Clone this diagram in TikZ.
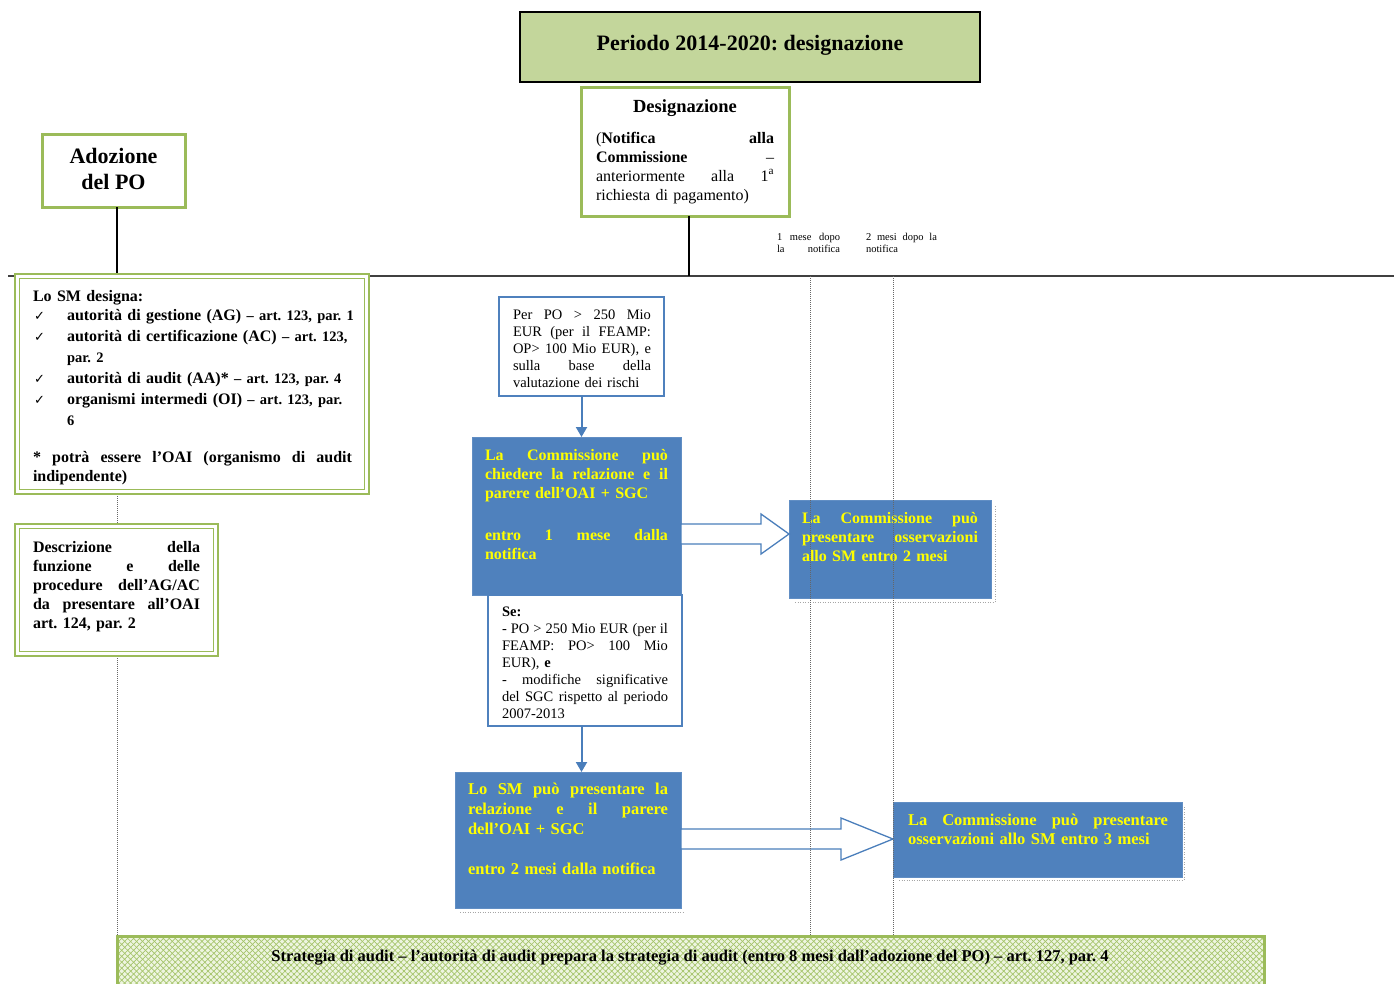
\documentclass[tikz,border=0pt]{standalone}
\usepackage{fontspec}
\setmainfont{Liberation Serif}
\newfontfamily\dejavu{DejaVu Sans}
\usetikzlibrary{arrows.meta,calc,fit,patterns.meta}
\definecolor{tgreen}{HTML}{C3D69B}
\definecolor{bgreen}{HTML}{9BBB59}
\definecolor{bblue}{HTML}{4F81BD}
\definecolor{lblue}{HTML}{4A7EBB}
\definecolor{byel}{HTML}{FFFF00}
\definecolor{stripbg}{HTML}{EEF5E0}
\definecolor{hatch}{HTML}{A5C46A}
\frenchspacing
\newcommand\fsz[2]{\fontsize{#1}{#2}\selectfont}
\newcommand\ckm{\makebox[34pt][l]{\hspace{1pt}{\dejavu\mdseries\fontsize{13}{13}\selectfont ✓}}}
\newcommand\subt[1]{{\fontsize{14.5}{21}\selectfont #1}}
\begin{document}
\begin{tikzpicture}[x=1pt,y=-1pt,
  frame/.style={inner sep=0pt, outer sep=0pt},
  titlebox/.style={frame, draw=black, line width=1.4pt, fill=tgreen},
  greenbox/.style={frame, draw=bgreen, line width=3pt, fill=white},
  dblouter/.style={frame, draw=bgreen, line width=2.6pt, fill=white},
  dblinner/.style={frame, draw=bgreen, line width=1.3pt},
  whitebox/.style={frame, draw=bblue, line width=1.4pt, fill=white},
  bluebox/.style={frame, draw=bblue!90!white, line width=1pt, fill=bblue},
  ghost/.style={draw=black!35, line width=0.6pt, dash pattern=on 1pt off 1.5pt},
  txt/.style={inner sep=0pt, outer sep=0pt, anchor=base west, align=left},
  ytxt/.style={txt, text=byel},
  timeline/.style={draw=black!75, line width=1.8pt},
  solidline/.style={draw=black, line width=1.2pt},
  dotline/.style={draw=black!60, line width=0.8pt, dash pattern=on 1pt off 1pt},
  bluearrow/.style={draw=lblue, line width=2pt, -{Triangle[width=11pt,length=10pt]}},
  blockarr/.style={draw=lblue, line width=1.3pt, fill=white, line join=miter},
]
\useasboundingbox (0,0) rectangle (1394,983);
\fill[white] (0,0) rectangle (1394,983);

% timeline
\coordinate (tlL) at (8,276);
\coordinate (tlR) at (1394,276);
\draw[timeline] (tlL) -- (tlR);

% dotted line under left boxes
\coordinate (v0t) at (117,494);
\coordinate (v0b) at (117,936);
\draw[dotline] (v0t) -- (v0b);

% title
\node[titlebox, fit={(520,12) (980,82)}] (title) {};
\node[font=\fsz{22}{26}\bfseries, inner sep=0pt] (titletxt) at (750,45) {Periodo 2014-2020: designazione};

% Adozione
\node[greenbox, fit={(42,134) (185,207)}] (adoz) {};
\node[font=\fsz{22}{26}\bfseries, align=center, inner sep=0pt] (adoztxt) at (113.5,169) {Adozione\\del PO};
\coordinate (adx) at (117,0);
\draw[solidline] (adoz.south -| adx) -- (tlL -| adx);

% Designazione
\node[greenbox, fit={(581,87) (789,216)}] (desig) {};
\node[txt, anchor=base, font=\fsz{18.5}{22}\bfseries] (desigh) at (685,112) {Designazione};
\node[txt, text width=178pt, font=\fsz{16}{19}] (desigtxt) at (596,143) {(\textbf{Notifica}\hfill\textbf{alla}\\
\textbf{Commissione}\hfill –\\
anteriormente\hfill alla\hfill 1\textsuperscript{a}\\
richiesta di pagamento)};
\coordinate (dsx) at (689,0);
\draw[solidline] (desig.south -| dsx) -- (tlL -| dsx);

% small labels
\node[txt, text width=63pt, font=\fsz{10.5}{12.5}] (lab1) at (777,240) {1\hfill mese\hfill dopo\\ la\hfill notifica};
\node[txt, text width=71pt, font=\fsz{10.5}{12.5}] (lab2) at (866,240) {2\hfill mesi\hfill dopo\hfill la\\ notifica};

% Lo SM designa
\node[dblouter, fit={(15,274) (369,494)}] (lsm) {};
\node[dblinner, fit={(19.5,278.5) (364.5,489.5)}] (lsmin) {};
\node[txt, text width=319pt, font=\fsz{16}{21}\bfseries] (lsmtxt) at (33,301) {Lo SM designa:\\[-2pt]
\mbox{\ckm autorità di gestione (AG) \subt{– art. 123, par. 1}}\\
\mbox{\ckm autorità di certificazione (AC) \subt{– art. 123,}}\\
\hspace*{34pt}\subt{par. 2}\\
\mbox{\ckm autorità di audit (AA)* \subt{– art. 123, par. 4}}\\
\mbox{\ckm organismi intermedi (OI) \subt{– art. 123, par.}}\\
\hspace*{34pt}\subt{6}\\[16pt]
*\hfill potrà\hfill essere\hfill l’OAI\hfill (organismo\hfill di\hfill audit\\[-2pt]
indipendente)};

% Descrizione
\node[dblouter, fit={(15,524) (218,656)}] (descr) {};
\node[dblinner, fit={(19.5,528.5) (213.5,651.5)}] (descrin) {};
\node[txt, text width=167pt, font=\fsz{16}{19}\bfseries] (descrtxt) at (33,552) {Descrizione\hfill della\\
funzione\hfill e\hfill delle\\
procedure\hfill dell’AG/AC\\
da\hfill presentare\hfill all’OAI\\
art. 124, par. 2};

% Per PO box
\node[whitebox, fit={(499,297) (664,396)}] (perpo) {};
\node[txt, text width=138pt, font=\fsz{14.5}{17}] (perpotxt) at (513,319) {Per\hfill PO\hfill >\hfill 250\hfill Mio\\
EUR\hfill (per\hfill il\hfill FEAMP:\\
OP>\hfill 100\hfill Mio\hfill EUR),\hfill e\\
sulla\hfill base\hfill della\\
valutazione dei rischi};

% blue box 1
\node[bluebox, fit={(472,437) (681,595)}] (b1) {};
\node[ytxt, text width=183pt, font=\fsz{16}{19}\bfseries] (b1txt) at (485,460) {La\hfill Commissione\hfill può\\
chiedere\hfill la\hfill relazione\hfill e\hfill il\\
parere dell’OAI + SGC\\[23pt]
entro\hfill 1\hfill mese\hfill dalla\\
notifica};
\draw[bluearrow] (perpo.south) -- (perpo.south |- b1.north);

% blue box 2
\draw[ghost] (795,602) -- (995,602) -- (995,505);
\node[bluebox, fit={(789,500) (991,598)}] (b2) {};
\node[ytxt, text width=176pt, font=\fsz{16}{19}\bfseries] (b2txt) at (802,523) {La\hfill Commissione\hfill può\\
presentare\hfill osservazioni\\
allo SM entro 2 mesi};

% block arrow 1
\coordinate (a1s) at (b1.east |- 0,534);
\coordinate (a1e) at (b2.west |- 0,534);
\draw[blockarr] ($(a1s)+(0,-10)$) -- ($(a1e)+(-28,-10)$) -- ($(a1e)+(-28,-20)$) -- (a1e)
  -- ($(a1e)+(-28,20)$) -- ($(a1e)+(-28,10)$) -- ($(a1s)+(0,10)$) -- cycle;

% Se box
\node[whitebox, fit={(488,595) (682,726)}] (sebox) {};
\node[txt, text width=166pt, font=\fsz{14.5}{17}] (setxt) at (502,616) {\textbf{Se:}\\
-\hfill PO\hfill >\hfill 250\hfill Mio\hfill EUR\hfill (per\hfill il\\
FEAMP:\hfill PO>\hfill 100\hfill Mio\\
EUR), \textbf{e}\\
-\hfill modifiche\hfill significative\\
del\hfill SGC\hfill rispetto\hfill al\hfill periodo\\
2007-2013};

% blue box 3
\draw[ghost] (460,912) -- (683,912);
\node[bluebox, fit={(455,772) (681,908)}] (b3) {};
\node[ytxt, text width=200pt, font=\fsz{16.5}{20}\bfseries] (b3txt) at (468,794) {Lo\hfill SM\hfill può\hfill presentare\hfill la\\
relazione\hfill e\hfill il\hfill parere\\
dell’OAI + SGC\\[20pt]
entro 2 mesi dalla notifica};
\draw[bluearrow] (sebox.south -| perpo.south) -- (b3.north -| perpo.south);

% blue box 4
\draw[ghost] (899,880) -- (1184,880) -- (1184,806);
\node[bluebox, fit={(893,802) (1182,877)}] (b4) {};
\node[ytxt, text width=260pt, font=\fsz{16.5}{19}\bfseries] (b4txt) at (908,825) {La\hfill Commissione\hfill può\hfill presentare\\
osservazioni allo SM entro 3 mesi};

% block arrow 2
\coordinate (a2s) at (b3.east |- 0,839);
\coordinate (a2e) at (b4.west |- 0,839);
\draw[blockarr] ($(a2s)+(0,-10)$) -- ($(a2e)+(-52,-10)$) -- ($(a2e)+(-52,-21)$) -- (a2e)
  -- ($(a2e)+(-52,21)$) -- ($(a2e)+(-52,10)$) -- ($(a2s)+(0,10)$) -- cycle;

% bottom strip
\fill[stripbg] (117,936) rectangle (1264,995);
\fill[pattern={Lines[angle=45,distance=4.2pt,line width=0.7pt]}, pattern color=hatch] (117,936) rectangle (1264,995);
\fill[pattern={Lines[angle=-45,distance=4.2pt,line width=0.7pt]}, pattern color=hatch] (117,936) rectangle (1264,995);
\node[frame, draw=bgreen, line width=3pt, fit={(117,936) (1264,995)}] (strip) {};
\node[font=\fsz{16.5}{18}\bfseries, inner sep=0pt, anchor=base] (striptxt) at (690,961) {Strategia di audit – l’autorità di audit prepara la strategia di audit (entro 8 mesi dall’adozione del PO) – art. 127, par. 4};

% dotted time markers
\coordinate (v1t) at (810,276);
\coordinate (v1b) at (810,936);
\coordinate (v2t) at (893,276);
\coordinate (v2b) at (893,936);
\draw[dotline] (v1t) -- (v1b);
\draw[dotline] (v2t) -- (v2b);
\end{tikzpicture}
\end{document}
